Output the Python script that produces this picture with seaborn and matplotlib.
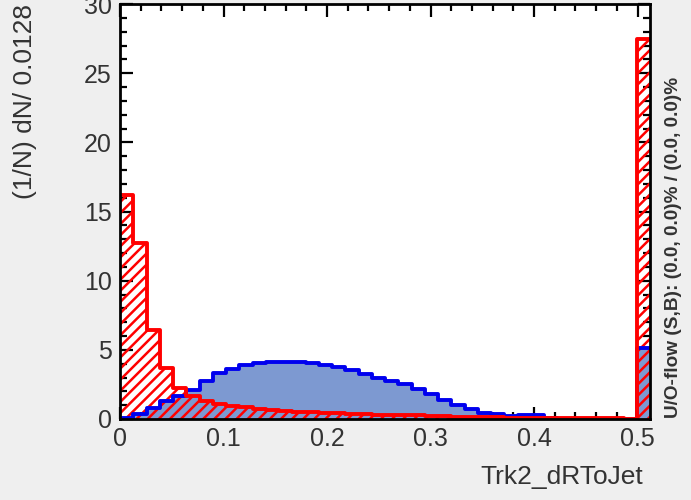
import numpy as np
import pandas as pd
import matplotlib
matplotlib.use("Agg")
import matplotlib.pyplot as plt
from matplotlib.ticker import MultipleLocator
import seaborn as sns

# ---- data ----
bin_width = 0.0128
n_bins = 40
signal = [0.1, 0.35, 0.8, 1.3, 1.65, 2.1, 2.75, 3.3, 3.6, 3.9,
          4.05, 4.15, 4.15, 4.15, 4.05, 3.9, 3.77, 3.55, 3.26, 2.97,
          2.75, 2.5, 2.2, 1.8, 1.35, 1.0, 0.7, 0.45, 0.35, 0.25,
          0.3, 0.28, 0.05, 0.02, 0.02, 0.01, 0.01, 0.0, 0.0, 5.1]
background = [16.2, 12.7, 6.4, 3.7, 2.25, 1.65, 1.3, 1.1, 0.95, 0.85,
              0.75, 0.65, 0.58, 0.52, 0.48, 0.44, 0.41, 0.38, 0.35, 0.32,
              0.3, 0.28, 0.26, 0.24, 0.2, 0.18, 0.16, 0.14, 0.12, 0.1,
              0.09, 0.08, 0.07, 0.06, 0.05, 0.05, 0.04, 0.04, 0.03, 27.5]
x_label = "Trk2_dRToJet"
y_label = "(1/N) dN/ 0.0128"
flow_text = "U/O-flow (S,B): (0.0, 0.0)% / (0.0, 0.0)%"

edges = [i * bin_width for i in range(n_bins + 1)]
centers = [(edges[i] + edges[i + 1]) / 2 for i in range(n_bins)]
df = pd.DataFrame({"x": centers, "sig": signal, "bkg": background})

sns.set_theme(style="white")
plt.rcParams["font.family"] = ["Liberation Sans", "DejaVu Sans"]
plt.rcParams["hatch.linewidth"] = 1.8
plt.rcParams["hatch.color"] = "#ff0000"

fig = plt.figure(figsize=(6.91, 5.0), dpi=100, facecolor="#efefef")
ax = fig.add_axes([120 / 691, 1 - 419 / 500, 530 / 691, 415 / 500])
ax.set_facecolor("white")

sig_fill = "#7d99d1"
sig_line = "#0000ee"
bkg_col = "#ff0000"

# signal fill
sns.histplot(data=df, x="x", weights="sig", bins=edges, element="step",
             fill=True, color=sig_fill, alpha=1, linewidth=0,
             edgecolor="none", ax=ax, zorder=1)
# background hatch
sns.histplot(data=df, x="x", weights="bkg", bins=edges, element="step",
             fill=True, color=bkg_col, facecolor="none", edgecolor=bkg_col,
             hatch="///", linewidth=0, alpha=1, ax=ax, zorder=2)
# signal outline
sns.histplot(data=df, x="x", weights="sig", bins=edges, element="step",
             fill=False, color=sig_line, linewidth=2.8, ax=ax, zorder=3)
# background outline
sns.histplot(data=df, x="x", weights="bkg", bins=edges, element="step",
             fill=False, color=bkg_col, linewidth=2.8, ax=ax, zorder=4)

ax.set_xlim(0, edges[-1])
ax.set_ylim(0, 30)
ax.xaxis.set_major_locator(MultipleLocator(0.1))
ax.xaxis.set_minor_locator(MultipleLocator(0.02))
ax.yaxis.set_major_locator(MultipleLocator(5))
ax.yaxis.set_minor_locator(MultipleLocator(1))
ax.set_xticks([0, 0.1, 0.2, 0.3, 0.4, 0.5])
ax.set_xticklabels(["0", "0.1", "0.2", "0.3", "0.4", "0.5"])

ax.tick_params(which="both", direction="in", top=True, right=True,
               bottom=True, left=True, color="black", width=1.6,
               labelsize=18, labelcolor="#333333")
ax.tick_params(axis="x", which="major", length=9, pad=6)
ax.tick_params(axis="y", which="major", length=9, pad=6)
ax.tick_params(which="minor", length=5)

for s in ax.spines.values():
    s.set_visible(True)
    s.set_color("black")
    s.set_linewidth(2)
    s.set_zorder(10)

ax.set_xlabel(x_label, fontsize=19, color="#333333", ha="right")
ax.xaxis.set_label_coords(0.987, -0.112)
ax.set_ylabel(y_label, fontsize=19, color="#333333", ha="right")
ax.yaxis.set_label_coords(-0.157, 1.0)

fig.text(673 / 691, 1 - 418 / 500, flow_text, rotation=90, ha="center",
         va="bottom", fontsize=13.7, fontweight="bold", color="#333333")

fig.savefig("out.png", dpi=100, facecolor=fig.get_facecolor())
